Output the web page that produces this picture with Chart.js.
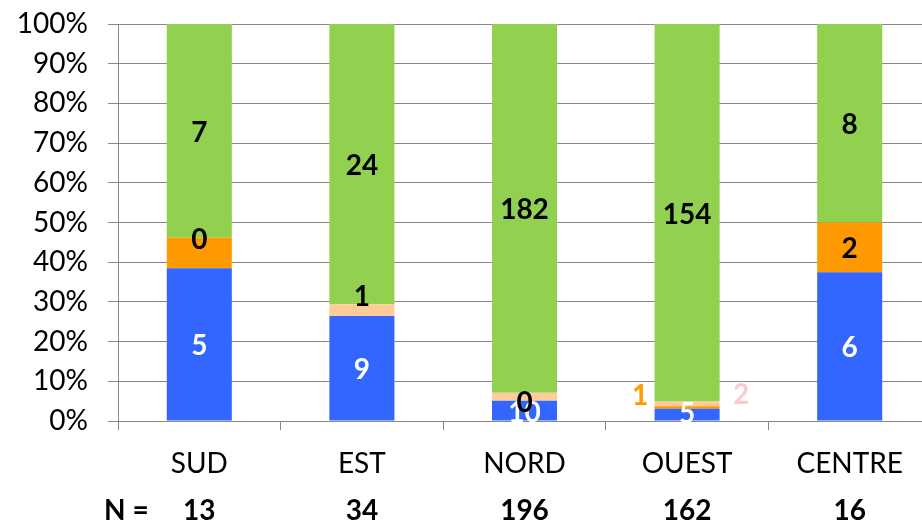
<!DOCTYPE html>
<html>
<head>
<meta charset="utf-8">
<script src="https://cdn.jsdelivr.net/npm/chart.js@4/dist/chart.umd.min.js"></script>
<style>
html,body{margin:0;padding:0;overflow:hidden;background:#fff;}
#wrap{width:931px;height:524px;}
</style>
</head>
<body>
<div id="wrap"><canvas id="c" width="931" height="524"></canvas></div>
<script>
const categories = ['SUD', 'EST', 'NORD', 'OUEST', 'CENTRE'];
const totals = [13, 34, 196, 162, 16];
const blueCounts = [5, 9, 10, 5, 6];
const orangeCounts = [1, 0, 0, 1, 2];
const peachCounts = [0, 1, 4, 2, 0];
const greenCounts = [7, 24, 182, 154, 8];
const blueLabels = ['5', '9', '10', '5', '6'];
const orangeLabels = [null, null, '0', '1', '2'];
const peachLabels = ['0', '1', null, '2', null];
const greenLabels = ['7', '24', '182', '154', '8'];
const yTickValues = [0, 10, 20, 30, 40, 50, 60, 70, 80, 90, 100];

const pct = arr => arr.map((c, i) => c / totals[i] * 100);
const FONT = 'Lato';

// label styling (colours / nudges), kept apart from the data
const labelStyle = [
  { color: '#FFFFFF', nudge: { 3: [0, -3] } },
  { color: '#000000', special: { 3: { color: '#FF9900', dx: -47, dy: -14 } } },
  { color: '#000000', nudge: { 1: [0, -15] }, special: { 3: { color: '#FFC9C9', dx: 54, dy: -11 } } },
  { color: '#000000' }
];
const labelSets = [blueLabels, orangeLabels, peachLabels, greenLabels];

const labelPlugin = {
  id: 'segLabels',
  afterDatasetsDraw(chart) {
    const ctx = chart.ctx;
    ctx.save();
    ctx.font = 'bold 28px ' + FONT;
    ctx.textAlign = 'center';
    ctx.textBaseline = 'middle';
    chart.data.datasets.forEach((ds, di) => {
      const meta = chart.getDatasetMeta(di);
      const st = labelStyle[di];
      meta.data.forEach((bar, i) => {
        const txt = labelSets[di][i];
        if (txt === null || txt === undefined) return;
        let x = bar.x, y = (bar.y + bar.base) / 2 + 2, color = st.color;
        if (st.nudge && st.nudge[i]) { x += st.nudge[i][0]; y += st.nudge[i][1]; }
        if (st.special && st.special[i]) {
          const s = st.special[i];
          color = s.color; x += s.dx; y += s.dy;
        }
        ctx.fillStyle = color;
        ctx.fillText(txt, x, y);
      });
    });
    ctx.restore();
  },
  afterDraw(chart) {
    const ctx = chart.ctx;
    const xs = chart.scales.x;
    const y = chart.chartArea.bottom + 90;
    ctx.save();
    ctx.font = 'bold 28px ' + FONT;
    ctx.fillStyle = '#000';
    ctx.textBaseline = 'middle';
    ctx.textAlign = 'left';
    ctx.fillText('N =', chart.chartArea.left - 14, y);
    ctx.textAlign = 'center';
    totals.forEach((t, i) => ctx.fillText(String(t), xs.getPixelForValue(i), y));
    ctx.restore();
  }
};

new Chart(document.getElementById('c'), {
  type: 'bar',
  data: {
    labels: categories,
    datasets: [
      { data: pct(blueCounts), backgroundColor: '#3366FF' },
      { data: pct(orangeCounts), backgroundColor: '#FF9900' },
      { data: pct(peachCounts), backgroundColor: '#FFCC99' },
      { data: pct(greenCounts), backgroundColor: '#92D050' }
    ]
  },
  options: {
    responsive: false,
    devicePixelRatio: 1,
    animation: false,
    datasets: { bar: { categoryPercentage: 1, barPercentage: 0.4, borderWidth: 0 } },
    layout: { padding: { top: 24, left: 0, right: 0, bottom: 0 } },
    plugins: { legend: { display: false }, tooltip: { enabled: false } },
    scales: {
      x: {
        stacked: true,
        offset: true,
        grid: { drawOnChartArea: false, drawTicks: true, tickLength: 9, color: '#888888', offset: true },
        border: { color: '#888888', width: 1 },
        ticks: { font: { family: FONT, size: 28 }, color: '#000', padding: 17, maxRotation: 0 },
        afterFit(scale) { scale.height = 103; scale.paddingLeft = 0; scale.paddingRight = 0; }
      },
      y: {
        stacked: true,
        min: 0,
        max: 100,
        afterBuildTicks(scale) { scale.ticks = yTickValues.map(v => ({ value: v })); },
        grid: { color: '#888888', lineWidth: 1, tickLength: 10 },
        border: { color: '#888888', width: 1 },
        ticks: { font: { family: FONT, size: 28 }, color: '#000', padding: 20, callback: v => v + '%' },
        afterFit(scale) { scale.width = 118; scale.paddingTop = 0; scale.paddingBottom = 0; }
      }
    }
  },
  plugins: [labelPlugin]
});
</script>
</body>
</html>
